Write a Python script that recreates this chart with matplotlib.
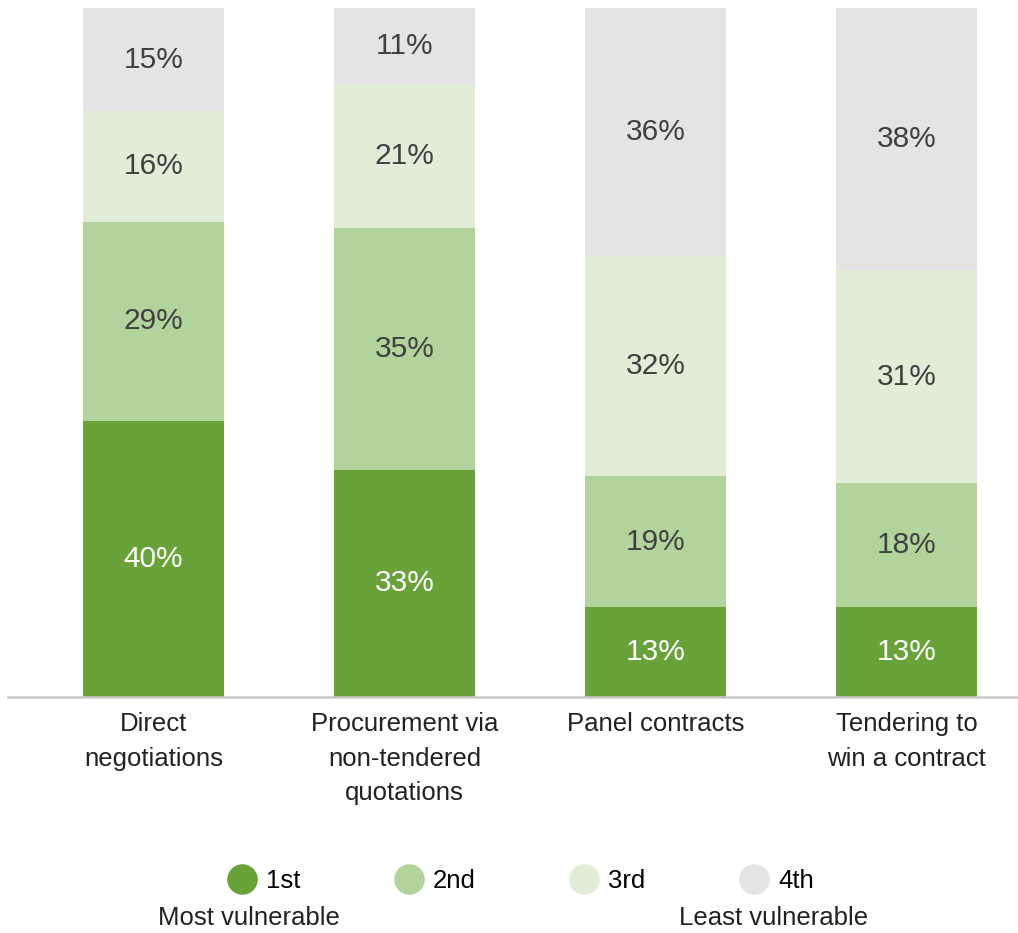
import matplotlib
matplotlib.use("Agg")
import matplotlib.pyplot as plt
from matplotlib.lines import Line2D
import numpy as np

categories = ["Direct\nnegotiations", "Procurement via\nnon-tendered\nquotations",
              "Panel contracts", "Tendering to\nwin a contract"]
rank_names = ["1st", "2nd", "3rd", "4th"]
first = [40, 33, 13, 13]
second = [29, 35, 19, 18]
third = [16, 21, 32, 31]
fourth = [15, 11, 36, 38]

COLORS = ["#6aa23a", "#b3d39d", "#e1edd7", "#e4e4e7"]
TEXT_DARK = "#404040"
AXIS = "#c9c9c9"

plt.rcParams["font.family"] = ["Liberation Sans", "DejaVu Sans"]

fig = plt.figure(figsize=(10.18, 9.33), dpi=100)
ax = fig.add_axes([0.0079, 0.2530, 0.9921, 0.7385])

x = np.arange(len(categories))
width = 0.562
bottom = np.zeros(len(categories))
series = [first, second, third, fourth]
for i, vals in enumerate(series):
    vals = np.array(vals, dtype=float)
    ax.bar(x, vals, width, bottom=bottom, color=COLORS[i], linewidth=0, zorder=2)
    for xi, b, v in zip(x, bottom, vals):
        ax.text(xi, b + v / 2, f"{int(v)}%", ha="center", va="center",
                fontsize=21.5, color="white" if i == 0 else TEXT_DARK, zorder=3)
    bottom += vals

ax.set_xlim(-0.58, 3.444)
ax.set_ylim(0, 100)
ax.set_yticks([])
ax.set_xticks(x)
ax.set_xticklabels(categories, fontsize=18.5, color="#222222", linespacing=1.55, va="top")
ax.tick_params(axis="x", length=0, pad=11)
for s in ("top", "left", "right"):
    ax.spines[s].set_visible(False)
ax.spines["bottom"].set_color(AXIS)
ax.spines["bottom"].set_linewidth(1.8)

handles = [Line2D([], [], marker="o", linestyle="", markersize=22,
                  markerfacecolor=c, markeredgewidth=0) for c in COLORS]
fig.legend(handles, rank_names, ncol=4, loc="center", bbox_to_anchor=(0.511, 0.056),
           frameon=False, fontsize=18.5, handletextpad=0.35, columnspacing=3.6,
           handlelength=1.2)
fig.text(0.155, 0.016, "Most vulnerable", fontsize=18.5, color="#222222", ha="left", va="center")
fig.text(0.853, 0.016, "Least vulnerable", fontsize=18.5, color="#222222", ha="right", va="center")

fig.savefig("out.png", dpi=100, facecolor="white")
